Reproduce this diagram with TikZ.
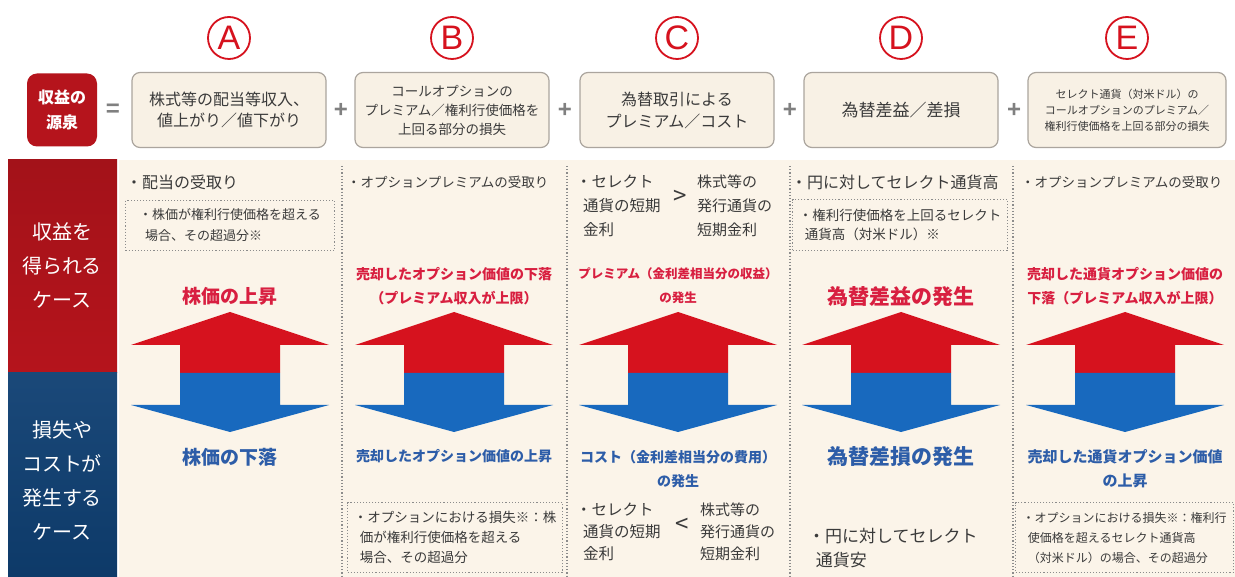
\documentclass[tikz,border=0pt]{standalone}
\usepackage{fontspec}
\setmainfont{Noto Sans CJK JP}
\newfontfamily\latinfont{Liberation Sans}
\usetikzlibrary{positioning}

\definecolor{srcred}{HTML}{B5141C}
\definecolor{arrred}{HTML}{D6121E}
\definecolor{arrblue}{HTML}{1869BE}
\definecolor{txtred}{HTML}{D81F40}
\definecolor{txtblue}{HTML}{2D5DA8}
\definecolor{txtgray}{HTML}{3A3A3A}
\definecolor{cream}{HTML}{FBF4E9}
\definecolor{boxfill}{HTML}{F8F1E5}
\definecolor{boxline}{HTML}{ABA59E}
\definecolor{dotgray}{HTML}{8C8C8C}

\begin{document}
\begin{tikzpicture}[x=1pt,y=-1pt,
      casetxt/.style = {font=\fontsize{15}{22}\selectfont, text=txtgray, align=left, anchor=north west, inner sep=0pt},
      notebox/.style = {draw=dotgray, dotted, line width=1.1pt, text=txtgray, align=left, anchor=north west, inner sep=4pt},
      gain/.style = {font=\bfseries\fontsize{14}{24}\selectfont, text=txtred, align=center},
      loss/.style = {font=\bfseries\fontsize{14}{24}\selectfont, text=txtblue, align=center},
      topbox/.style = {draw=boxline, fill=boxfill, line width=1.2pt, rounded corners=8pt, minimum width=194pt, minimum height=75pt, align=center, text=txtgray, inner sep=2pt},
      letter/.style = {circle, draw=arrred, line width=1.8pt, minimum size=42pt, inner sep=0pt, text=arrred, font=\latinfont\fontsize{34}{34}\selectfont},
      sign/.style = {text=gray, font=\latinfont\bfseries\fontsize{24}{24}\selectfont},
      sidelbl/.style = {text=white, align=center, font=\fontsize{20}{34}\selectfont},
      sepline/.style = {draw=dotgray, dotted, line width=1.2pt}
      ]
      \fill[white] (0,0) rectangle (1235,577);
      \useasboundingbox (0,0) rectangle (1235,577);

      % circled letters
      \node[letter] (lA) at (229,38) {A};
      \node[letter] (lB) at (452,38) {B};
      \node[letter] (lC) at (677,38) {C};
      \node[letter] (lD) at (901,38) {D};
      \node[letter] (lE) at (1127,38) {E};

      % top row
      \node[fill=srcred, rounded corners=10pt, minimum width=70pt, minimum height=73pt, text=white, align=center, font=\bfseries\fontsize{16}{25}\selectfont] (src) at (62,110) {収益の\\源泉};
      \node[sign] (eq) at (113,110) {=};
      \node[topbox, font=\fontsize{16}{21}\selectfont] (bA) at (229,110) {株式等の配当等収入、\\値上がり／値下がり};
      \node[sign] (p1) at (341,110) {+};
      \node[topbox, font=\fontsize{13.5}{19}\selectfont] (bB) at (452,110) {コールオプションの\\プレミアム／権利行使価格を\\上回る部分の損失};
      \node[sign] (p2) at (565,110) {+};
      \node[topbox, font=\fontsize{16}{22}\selectfont] (bC) at (677,110) {為替取引による\\プレミアム／コスト};
      \node[sign] (p3) at (790,110) {+};
      \node[topbox, font=\fontsize{17}{22}\selectfont] (bD) at (901,110) {為替差益／差損};
      \node[sign] (p4) at (1014,110) {+};
      \node[topbox, minimum width=198pt, font=\fontsize{11}{16}\selectfont] (bE) at (1127,110) {セレクト通貨（対米ドル）の\\コールオプションのプレミアム／\\権利行使価格を上回る部分の損失};

      % side panels and background
      \fill[cream] (119,160) rectangle (1235,577);
      \shade[top color=srcred!90!black, bottom color=srcred] (8,160) rectangle (117,373);
      \shade[top color=arrblue!60!black!95, bottom color=arrblue!55!black] (8,373) rectangle (117,577);
      \node[sidelbl] (gaincase) at (62,265) {収益を\\得られる\\ケース};
      \node[sidelbl] (losscase) at (62,480) {損失や\\コストが\\発生する\\ケース};

      \foreach \sx in {342,567,790,1013}
        \draw[sepline] (\sx,166) -- (\sx,577);

      % arrows
      \foreach \cx in {230,454,678,901,1125}{
        \fill[arrred] (\cx,312) -- (\cx+99,345) -- (\cx+50,345) -- (\cx+50,373)
          -- (\cx-50,373) -- (\cx-50,345) -- (\cx-99,345) -- cycle;
        \fill[arrblue] (\cx-50,373) -- (\cx+50,373) -- (\cx+50,405) -- (\cx+99,405)
          -- (\cx,432) -- (\cx-99,405) -- (\cx-50,405) -- cycle;
      }

      % column A
      \node[casetxt, font=\fontsize{16}{22}\selectfont] (recvA) at (126,175) {・配当の受取り};
      \node[notebox, minimum width=209pt, minimum height=50pt, font=\fontsize{13}{21}\selectfont] (noteA) at (125,200) {・株価が権利行使価格を超える\\\ \ 場合、その超過分※};
      \node[gain, font=\bfseries\fontsize{19}{24}\selectfont] (upA) at (230,296) {株価の上昇};
      \node[loss, font=\bfseries\fontsize{19}{24}\selectfont] (downA) at (230,457) {株価の下落};

      % column B
      \node[casetxt, font=\fontsize{13.5}{22}\selectfont] (recvB) at (347,176) {・オプションプレミアムの受取り};
      \node[gain] (upB) at (454,286) {売却したオプション価値の下落\\（プレミアム収入が上限）};
      \node[loss] (downB) at (454,456) {売却したオプション価値の上昇};
      \node[notebox, minimum width=215pt, minimum height=70pt, font=\fontsize{13.5}{20}\selectfont] (noteB) at (347,502) {・オプションにおける損失※：株\\\ \ 価が権利行使価格を超える\\\ \ 場合、その超過分};

      % column C
      \node[casetxt, font=\fontsize{15.5}{24}\selectfont] (hiC) at (576,175) {・セレクト\\\ \ 通貨の短期\\\ \ 金利};
      \node[text=txtgray, font=\fontsize{24}{24}\selectfont] (gtC) at (680,197) {>};
      \node[casetxt, font=\fontsize{15}{24}\selectfont] (stkC) at (697,175) {株式等の\\発行通貨の\\短期金利};
      \node[gain, font=\bfseries\fontsize{12.5}{24}\selectfont] (upC) at (678,286) {プレミアム（金利差相当分の収益）\\の発生};
      \node[loss] (downC) at (678,469) {コスト（金利差相当分の費用）\\の発生};
      \node[casetxt, font=\fontsize{15.5}{22}\selectfont] (loC) at (576,503) {・セレクト\\\ \ 通貨の短期\\\ \ 金利};
      \node[text=txtgray, font=\fontsize{24}{24}\selectfont] (ltC) at (682,525) {<};
      \node[casetxt, font=\fontsize{15}{22}\selectfont] (stk2C) at (700,503) {株式等の\\発行通貨の\\短期金利};

      % column D
      \node[casetxt, font=\fontsize{16}{22}\selectfont] (recvD) at (791,175) {・円に対してセレクト通貨高};
      \node[notebox, minimum width=215pt, minimum height=51pt, font=\fontsize{13.5}{19}\selectfont] (noteD) at (792,199) {・権利行使価格を上回るセレクト\\\ \ 通貨高（対米ドル）※};
      \node[gain, font=\bfseries\fontsize{21}{24}\selectfont] (upD) at (901,297) {為替差益の発生};
      \node[loss, font=\bfseries\fontsize{21}{24}\selectfont] (downD) at (901,457) {為替差損の発生};
      \node[casetxt, font=\fontsize{17}{24}\selectfont] (lowD) at (808,528) {・円に対してセレクト\\\ \ 通貨安};

      % column E
      \node[casetxt, font=\fontsize{13.5}{22}\selectfont] (recvE) at (1021,176) {・オプションプレミアムの受取り};
      \node[gain] (upE) at (1125,286) {売却した通貨オプション価値の\\下落（プレミアム収入が上限）};
      \node[loss, font=\bfseries\fontsize{15}{24}\selectfont] (downE) at (1125,469) {売却した通貨オプション価値\\の上昇};
      \node[notebox, minimum width=218pt, minimum height=70pt, font=\fontsize{12}{20}\selectfont] (noteE) at (1015,502) {・オプションにおける損失※：権利行\\\ \ 使価格を超えるセレクト通貨高\\\ \ （対米ドル）の場合、その超過分};
    \end{tikzpicture}
\end{document}
